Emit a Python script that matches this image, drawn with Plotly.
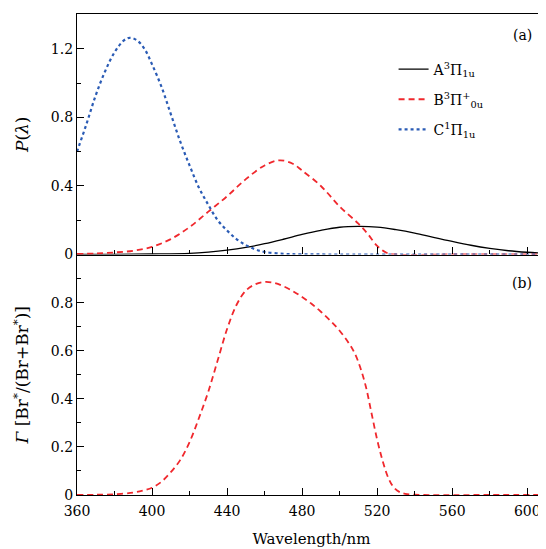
import plotly.graph_objects as go
from plotly.subplots import make_subplots

# Panel (a): P(lambda) for the three states
wl_a = [360, 380, 400, 420, 430, 440, 450, 460, 470, 480, 490, 500,
        510, 520, 530, 540, 550, 560, 570, 580, 590, 600, 610]
p_a = [0.0, 0.001, 0.003, 0.007, 0.014, 0.025, 0.041, 0.063, 0.089, 0.117, 0.141, 0.159,
       0.164, 0.160, 0.145, 0.125, 0.10, 0.076, 0.054, 0.036, 0.022, 0.013, 0.007]

wl_b = [360, 370, 380, 390, 400, 410, 420, 430, 440, 450, 460, 468, 475,
        480, 490, 500, 510, 515, 520, 525, 530, 560, 610]
p_b = [0.003, 0.006, 0.012, 0.022, 0.045, 0.09, 0.16, 0.25, 0.34, 0.44, 0.52, 0.55, 0.53,
       0.49, 0.40, 0.28, 0.18, 0.12, 0.05, 0.01, 0.0, 0.0, 0.0]

wl_c = [360, 365, 370, 375, 380, 385, 388, 392, 396, 400, 405, 410, 415, 420,
        425, 430, 435, 440, 445, 450, 455, 460, 470, 480, 500, 610]
p_c = [0.60, 0.76, 0.93, 1.07, 1.18, 1.25, 1.265, 1.25, 1.20, 1.11, 0.98, 0.82, 0.66, 0.52,
       0.39, 0.29, 0.20, 0.14, 0.09, 0.055, 0.03, 0.015, 0.004, 0.001, 0.0, 0.0]

# Panel (b): branching ratio
wl_g = [360, 370, 380, 390, 395, 400, 405, 410, 415, 420, 425, 430, 435, 440, 445, 450,
        455, 460, 465, 470, 475, 480, 485, 490, 495, 500, 505, 508, 511, 514, 517, 520,
        523, 526, 529, 532, 535, 540, 545, 580, 610]
gamma = [0.0, 0.001, 0.003, 0.01, 0.018, 0.03, 0.055, 0.095, 0.145, 0.22, 0.32, 0.43, 0.56,
         0.69, 0.79, 0.85, 0.876, 0.886, 0.882, 0.868, 0.848, 0.823, 0.795, 0.762, 0.725,
         0.683, 0.63, 0.59, 0.53, 0.45, 0.34, 0.23, 0.14, 0.07, 0.03, 0.012, 0.005, 0.001,
         0.0, 0.0, 0.0]

names = ["A<sup>3</sup>Π<sub>1u</sub>", "B<sup>3</sup>Π<sup>+</sup><sub>0u</sub>",
         "C<sup>1</sup>Π<sub>1u</sub>"]

FONT = "DejaVu Serif"
RED = "#f0282d"
BLUE = "#2a5bb5"

fig = make_subplots(rows=2, cols=1, shared_xaxes=True, vertical_spacing=0)

fig.add_trace(go.Scatter(x=wl_a, y=p_a, mode="lines", name=names[0], line_shape="spline",
                         legendgroup="a", line=dict(color="black", width=1.3)), row=1, col=1)
fig.add_trace(go.Scatter(x=wl_b, y=p_b, mode="lines", name=names[1], line_shape="spline",
                         legendgroup="b", line=dict(color=RED, width=1.8, dash="6px,4px")),
              row=1, col=1)
fig.add_trace(go.Scatter(x=wl_c, y=p_c, mode="lines", name=names[2], line_shape="spline",
                         legendgroup="c", line=dict(color=BLUE, width=2.2, dash="dot")),
              row=1, col=1)
fig.add_trace(go.Scatter(x=wl_g, y=gamma, mode="lines", showlegend=False, line_shape="spline",
                         line=dict(color=RED, width=1.8, dash="6px,4px")), row=2, col=1)

xcommon = dict(range=[360, 610], tick0=360, dtick=40, ticks="inside", ticklen=7,
               tickcolor="black", showline=True, linecolor="black", linewidth=1.3,
               showgrid=False, zeroline=False, automargin=False, ticklabelstandoff=3,
               minor=dict(ticks="inside", ticklen=4, dtick=20, tick0=360, tickcolor="black"))
fig.update_xaxes(**xcommon)
fig.update_xaxes(showticklabels=False, mirror=True, row=1, col=1)
fig.update_xaxes(title=dict(text="Wavelength/nm", standoff=15, font=dict(size=15)),
                 row=2, col=1)

ycommon = dict(ticks="inside", ticklen=7, tickcolor="black", showline=True, automargin=False,
               linecolor="black", linewidth=1.3, showgrid=False, zeroline=False)
fig.update_yaxes(**ycommon)
fig.update_yaxes(range=[0, 1.404], tickvals=[0, 0.4, 0.8, 1.2],
                 minor=dict(ticks="inside", ticklen=4, dtick=0.2, tick0=0, tickcolor="black"),
                 title=dict(text="<i>P</i>(<i>λ</i>)", standoff=17), row=1, col=1)
fig.update_yaxes(range=[0, 1.0], tickvals=[0, 0.2, 0.4, 0.6, 0.8],
                 minor=dict(ticks="inside", ticklen=4, dtick=0.1, tick0=0, tickcolor="black"),
                 title=dict(text="<i>Γ</i> [Br<sup>*</sup>/(Br+Br<sup>*</sup>)]", standoff=17),
                 row=2, col=1)

fig.add_annotation(text="(a)", xref="paper", yref="paper", x=0.949, y=0.956,
                   xanchor="center", yanchor="middle", showarrow=False, font=dict(size=14))
fig.add_annotation(text="(b)", xref="paper", yref="paper", x=0.949, y=0.441,
                   xanchor="center", yanchor="middle", showarrow=False, font=dict(size=14))

# page body has an 8px margin, so shrink the figure by that much
fig.update_layout(
    width=538, height=541,
    margin=dict(l=69, r=0, t=6, b=54),
    plot_bgcolor="white", paper_bgcolor="white",
    font=dict(family=FONT, size=14, color="black"),
    legend=dict(x=0.675, y=0.918, xanchor="left", yanchor="top",
                bgcolor="rgba(0,0,0,0)", font=dict(size=14), tracegroupgap=9),
)

fig.write_html("out.html")
